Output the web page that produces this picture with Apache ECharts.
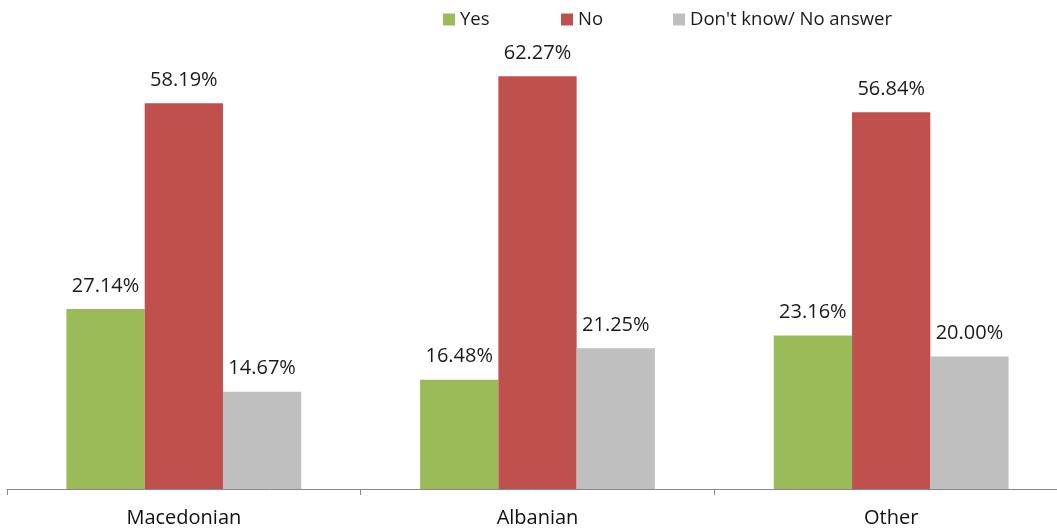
<!DOCTYPE html>
<html><head><meta charset="utf-8">
<script src="https://cdn.jsdelivr.net/npm/echarts@6/dist/echarts.min.js"></script>
<style>html,body{margin:0;padding:0;background:#fff}#c{width:1057px;height:529px}</style>
</head><body><div id="c"></div>
<script>
const categories = ['Macedonian', 'Albanian', 'Other'];
const seriesNames = ['Yes', 'No', "Don't know/ No answer"];
const yesValues = [27.14, 16.48, 23.16];
const noValues = [58.19, 62.27, 56.84];
const dkValues = [14.67, 21.25, 20.00];
const colors = ['#9BBB59', '#C0504D', '#BFBFBF'];

const font = 'Open Sans';
const chart = echarts.init(document.getElementById('c'));
const mk = (name, data, i) => ({
  name, type: 'bar', data, barGap: '0%', barCategoryGap: '33.6%',
  itemStyle: { color: colors[i] },
  label: { show: true, position: 'top', distance: 13, formatter: p => p.value.toFixed(2) + '%',
    color: '#1a1a1a', fontFamily: font, fontSize: 20 }
});
const legendPos = [438, 556, 668];
chart.setOption({
  animation: false,
  textStyle: { fontFamily: font },
  legend: seriesNames.map((n, i) => ({
    data: [n], left: legendPos[i], top: 5, itemWidth: 12, itemHeight: 12, icon: 'rect',
    textStyle: { fontFamily: font, fontSize: 18.5, color: '#1a1a1a' }, itemGap: 6
  })),
  grid: { left: 7, width: 1061, top: 25, bottom: 40, outerBoundsMode: 'none', containLabel: false },
  xAxis: { type: 'category', data: categories,
    axisLine: { lineStyle: { color: '#888', width: 1 } },
    axisTick: { show: true, length: 6, lineStyle: { color: '#888' } },
    axisLabel: { color: '#111', fontFamily: font, fontSize: 20, margin: 19 } },
  yAxis: { type: 'value', min: 0, max: 70, show: false, splitLine: { show: false } },
  series: [mk(seriesNames[0], yesValues, 0), mk(seriesNames[1], noValues, 1), mk(seriesNames[2], dkValues, 2)]
});
</script></body></html>
